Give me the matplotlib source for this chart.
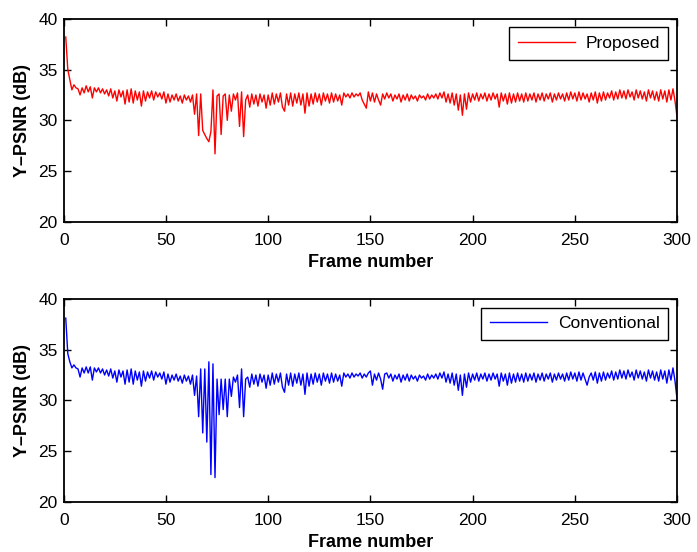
import numpy as np
import matplotlib.pyplot as plt

plt.rcParams['font.family'] = ['Liberation Sans', 'DejaVu Sans']

# Y-PSNR per frame (dB)
proposed = [
    38.2, 35.0, 34.0, 33.0, 33.5, 33.2, 33.1, 32.5, 33.2, 32.7,
    33.4, 32.8, 33.3, 32.2, 33.2, 32.8, 33.2, 32.7, 33.1, 32.6,
    33.0, 32.4, 33.1, 32.2, 32.9, 31.9, 33.0, 32.3, 32.9, 31.6,
    33.0, 31.8, 33.1, 31.7, 32.9, 32.0, 32.8, 31.4, 32.9, 31.9,
    32.8, 32.2, 32.9, 32.0, 32.8, 32.3, 32.7, 32.1, 32.8, 31.7,
    32.6, 31.8, 32.5, 32.0, 32.6, 31.9, 32.4, 31.7, 32.5, 32.0,
    32.4, 31.8, 32.5, 30.6, 32.6, 28.5, 32.6, 29.0, 28.6, 28.2,
    27.9, 28.9, 33.0, 26.7, 32.4, 32.6, 28.6, 32.4, 32.6, 30.0,
    32.5, 30.9, 32.6, 32.0, 32.7, 29.4, 32.8, 28.4, 32.0, 32.5,
    31.3, 32.6, 31.6, 32.5, 31.4, 32.6, 31.8, 32.5, 31.2, 32.5,
    31.5, 32.7, 31.6, 32.6, 31.8, 32.7, 31.3, 30.9, 32.6, 31.5,
    32.7, 31.4, 32.6, 31.7, 32.7, 31.5, 32.6, 30.7, 32.7, 31.4,
    32.6, 31.6, 32.7, 31.8, 32.6, 31.5, 32.7, 31.9, 32.6, 31.7,
    32.7, 31.8, 32.6, 31.9, 32.5, 31.5, 32.7, 32.3, 32.6, 32.2,
    32.7, 32.3, 32.6, 32.4, 32.7, 32.0, 31.6, 31.2, 32.8, 31.9,
    32.7, 31.8, 32.6, 32.0, 31.5, 32.6, 32.1, 32.7, 32.2, 32.6,
    31.9, 32.5, 32.1, 32.6, 31.8, 32.5, 32.0, 32.6, 31.9, 32.5,
    32.1, 32.4, 31.9, 32.5, 32.2, 32.4, 32.0, 32.6, 32.1, 32.5,
    32.2, 32.6, 32.1, 32.7, 32.2, 32.8, 31.8, 32.6, 31.7, 32.7,
    31.5, 32.6, 31.0, 32.5, 30.5, 32.6, 31.1, 32.7, 31.8, 32.6,
    32.0, 32.7, 31.9, 32.6, 32.1, 32.7, 31.9, 32.6, 32.0, 32.7,
    32.1, 32.6, 31.3, 32.7, 31.9, 32.6, 31.6, 32.7, 31.7, 32.6,
    31.8, 32.7, 31.9, 32.6, 31.8, 32.7, 31.9, 32.6, 32.0, 32.7,
    31.8, 32.6, 32.0, 32.7, 31.9, 32.6, 32.1, 32.7, 31.8, 32.6,
    32.0, 32.7, 32.1, 32.6, 31.9, 32.7, 32.0, 32.8, 32.1, 32.7,
    31.9, 32.8, 32.0, 32.7, 32.1, 32.6, 31.8, 32.7, 32.0, 32.8,
    31.7, 32.7, 31.9, 32.8, 32.0, 32.7, 32.2, 32.9, 32.0, 32.8,
    32.1, 33.0, 32.2, 32.9, 32.1, 33.0, 32.3, 32.8, 32.0, 33.0,
    32.2, 32.9, 32.1, 32.8, 31.9, 33.0, 32.2, 32.9, 32.0, 32.8,
    31.9, 33.0, 32.1, 32.9, 31.8, 33.0, 32.0, 33.1, 31.9, 30.3,
]

conventional = [
    38.1, 34.6, 33.8, 33.2, 33.5, 33.2, 33.1, 32.3, 33.2, 32.7,
    33.3, 32.7, 33.3, 32.0, 33.2, 32.8, 33.2, 32.7, 33.1, 32.5,
    33.0, 32.4, 33.1, 32.2, 32.9, 31.8, 33.0, 32.3, 32.9, 31.6,
    33.0, 31.8, 33.1, 31.6, 32.9, 32.0, 32.8, 31.4, 32.9, 31.9,
    32.8, 32.2, 32.9, 32.0, 32.8, 32.3, 32.7, 32.1, 32.8, 31.6,
    32.6, 31.8, 32.5, 32.0, 32.6, 31.9, 32.4, 31.7, 32.5, 31.9,
    32.4, 31.6, 32.5, 30.5, 32.4, 28.4, 33.1, 26.8, 33.1, 25.9,
    33.8, 22.7, 33.6, 22.4, 32.1, 28.6, 32.1, 29.1, 32.1, 28.4,
    32.1, 30.4, 32.3, 31.8, 32.5, 29.3, 33.1, 28.4, 32.1, 32.3,
    31.3, 32.6, 31.6, 32.5, 31.4, 32.6, 31.8, 32.5, 31.2, 32.5,
    31.5, 32.7, 31.6, 32.6, 31.8, 32.7, 31.3, 30.8, 32.6, 31.5,
    32.7, 31.4, 32.6, 31.7, 32.7, 31.5, 32.6, 30.6, 32.7, 31.4,
    32.6, 31.6, 32.7, 31.8, 32.6, 31.5, 32.7, 31.9, 32.6, 31.7,
    32.7, 31.8, 32.6, 31.9, 32.5, 31.4, 32.7, 32.3, 32.6, 32.2,
    32.7, 32.3, 32.6, 32.4, 32.7, 32.2, 32.6, 32.3, 32.7, 32.9,
    31.5, 32.6, 32.0, 32.7, 32.1, 31.1, 32.6, 32.7, 32.2, 32.6,
    31.9, 32.5, 32.1, 32.6, 31.8, 32.5, 32.0, 32.6, 31.9, 32.5,
    32.1, 32.4, 31.9, 32.5, 32.2, 32.4, 32.0, 32.6, 32.1, 32.5,
    32.2, 32.6, 32.1, 32.7, 32.2, 32.8, 31.8, 32.6, 31.7, 32.7,
    31.5, 32.6, 31.0, 32.5, 30.5, 32.6, 31.3, 32.7, 31.8, 32.6,
    32.0, 32.7, 31.9, 32.6, 32.1, 32.7, 31.9, 32.6, 32.0, 32.7,
    32.1, 32.6, 31.4, 32.7, 31.9, 32.6, 31.5, 32.7, 31.7, 32.6,
    31.8, 32.7, 31.9, 32.6, 31.8, 32.7, 31.9, 32.6, 32.0, 32.7,
    31.8, 32.6, 32.0, 32.7, 31.9, 32.6, 32.1, 32.7, 31.8, 32.6,
    32.0, 32.7, 32.1, 32.6, 31.9, 32.7, 32.0, 32.8, 32.1, 32.7,
    31.9, 32.8, 32.0, 32.7, 32.1, 31.5, 32.3, 32.7, 32.0, 32.8,
    31.7, 32.7, 31.9, 32.8, 32.0, 32.7, 32.2, 32.9, 32.0, 32.8,
    32.1, 33.0, 32.2, 32.9, 32.1, 33.0, 32.3, 32.8, 32.0, 33.0,
    32.2, 32.9, 32.1, 32.8, 31.9, 33.0, 32.2, 32.9, 32.0, 32.8,
    31.9, 33.0, 32.1, 32.9, 31.7, 33.0, 32.0, 33.2, 31.9, 30.1,
]

frames = np.arange(1, len(proposed) + 1)
x_ticks = [0, 50, 100, 150, 200, 250, 300]
y_ticks = [20, 25, 30, 35, 40]


def draw_panel(ax, y, color, name):
    ax.plot(frames, y, color=color, lw=1.0, label=name)
    ax.set_xlim(0, 300)
    ax.set_ylim(20, 40)
    ax.set_xticks(x_ticks)
    ax.set_yticks(y_ticks)
    ax.tick_params(direction='in', top=True, right=True, length=5,
                   width=1, labelsize=12.5)
    ax.tick_params(axis='x', pad=8)
    ax.tick_params(axis='y', pad=4.5)
    for sp in ax.spines.values():
        sp.set_linewidth(1.3)
    ax.set_xlabel('Frame number', fontsize=13, fontweight='bold', labelpad=4)
    ax.set_ylabel('Y\u2013PSNR (dB)', fontsize=13, fontweight='bold', labelpad=5)
    leg = ax.legend(loc='upper right', fontsize=12.5, handlelength=3.3,
                    fancybox=False, framealpha=1, borderaxespad=0.5,
                    borderpad=0.5, handletextpad=0.6)
    leg.get_frame().set_edgecolor('black')
    leg.get_frame().set_linewidth(1.0)


fig = plt.figure(figsize=(6.97, 5.52), dpi=100)
ax1 = fig.add_axes([0.0914, 0.598, 0.880, 0.368])
ax2 = fig.add_axes([0.0914, 0.0906, 0.880, 0.368])

draw_panel(ax1, proposed, '#ff0000', 'Proposed')
draw_panel(ax2, conventional, '#0000ff', 'Conventional')

fig.savefig('out.png', dpi=100)
